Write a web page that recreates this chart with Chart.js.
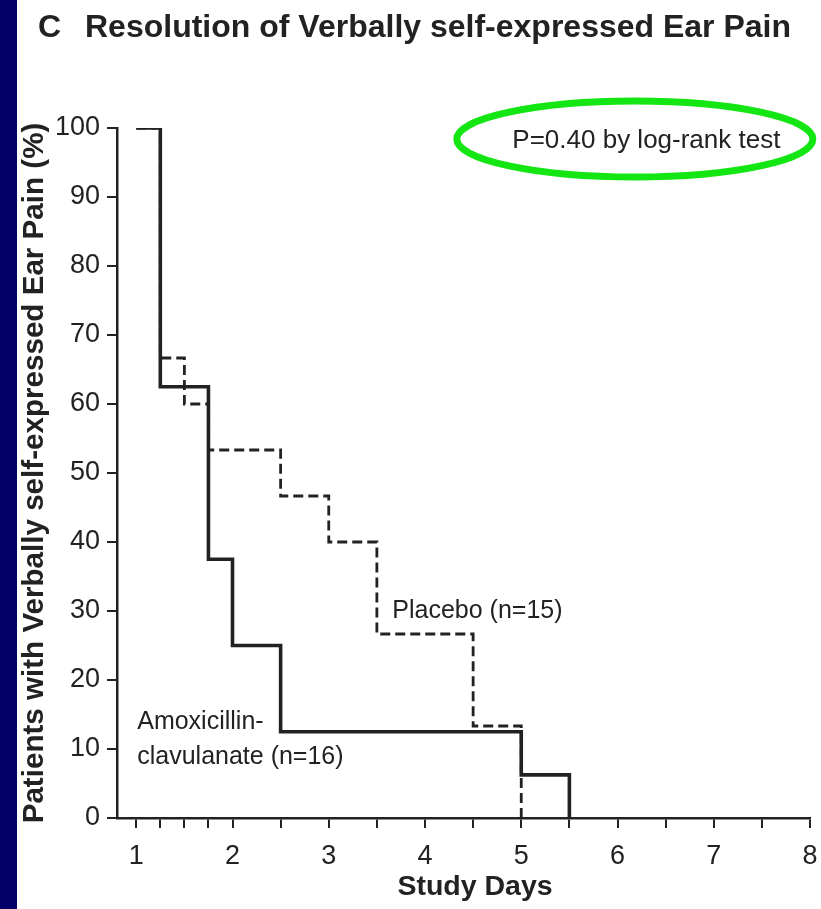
<!DOCTYPE html>
<html><head><meta charset="utf-8">
<script src="https://cdn.jsdelivr.net/npm/chart.js@4/dist/chart.umd.min.js"></script>
<style>html,body{margin:0;padding:0;background:#fff;overflow:hidden}#wrap{position:relative;width:821px;height:909px}</style>
</head><body><div id="wrap"><canvas id="c" width="821" height="909"></canvas></div>
<script>
// ---- data ----
const amoxDays = [1, 1.25, 1.75, 2, 2.5, 5, 5.5];
const amoxPct = [100, 62.5, 37.5, 25, 12.5, 6.25, 0];
const placeboDays = [1, 1.25, 1.5, 1.75, 2.5, 3, 3.5, 4.5, 5];
const placeboPct = [100, 66.67, 60, 53.33, 46.67, 40, 26.67, 13.33, 0];
const xTickValues = [1, 1.25, 1.5, 1.75, 2, 2.5, 3, 3.5, 4, 4.5, 5, 5.5, 6, 6.5, 7, 7.5, 8];
const xTickLabels = ['1', '', '', '', '2', '', '3', '', '4', '', '5', '', '6', '', '7', '', '8'];
const yTickValues = [0, 10, 20, 30, 40, 50, 60, 70, 80, 90, 100];
const titleLetter = 'C';
const titleText = 'Resolution of Verbally self-expressed Ear Pain';
const yTitle = 'Patients with Verbally self-expressed Ear Pain (%)';
const xTitle = 'Study Days';
const placeboLabel = 'Placebo (n=15)';
const amoxLabel = ['Amoxicillin-', 'clavulanate (n=16)'];
const pText = 'P=0.40 by log-rank test';

const FONT = "'Liberation Sans', Arial, Helvetica, sans-serif";
const INK = '#222';

const toPts = (xs, ys) => xs.map((x, i) => ({x, y: ys[i]}));

const deco = {
  id: 'deco',
  beforeDraw(chart) {
    const ctx = chart.ctx;
    ctx.save();
    ctx.fillStyle = '#fff';
    ctx.fillRect(0, 0, chart.width, chart.height);
    ctx.fillStyle = '#000066';
    ctx.fillRect(0, 0, 17, chart.height);
    ctx.restore();
  },
  afterDraw(chart) {
    const ctx = chart.ctx;
    const xs = chart.scales.x, ys = chart.scales.y;
    ctx.save();
    ctx.fillStyle = INK;
    ctx.textBaseline = 'alphabetic';
    ctx.textAlign = 'left';
    ctx.font = 'bold 32px ' + FONT;
    ctx.fillText(titleLetter, 38, 37);
    ctx.fillText(titleText, 85, 37);

    ctx.font = 'bold 28.5px ' + FONT;
    ctx.textAlign = 'center';
    ctx.textBaseline = 'middle';
    ctx.fillText(xTitle, 475, 887);

    ctx.font = '25px ' + FONT;
    ctx.textAlign = 'left';
    ctx.fillText(placeboLabel, xs.getPixelForValue(3.66), ys.getPixelForValue(30));
    ctx.fillText(amoxLabel[0], xs.getPixelForValue(1.01), ys.getPixelForValue(13.9));
    ctx.fillText(amoxLabel[1], xs.getPixelForValue(1.01), ys.getPixelForValue(8.8));

    ctx.font = '26px ' + FONT;
    ctx.textAlign = 'center';
    ctx.fillText(pText, xs.getPixelForValue(6.3), ys.getPixelForValue(98.1));

    ctx.strokeStyle = '#14e614';
    ctx.lineWidth = 7;
    ctx.beginPath();
    ctx.ellipse(xs.getPixelForValue(6.18), ys.getPixelForValue(98.4), 178, 38, 0, 0, Math.PI * 2);
    ctx.stroke();
    ctx.restore();
  }
};

new Chart(document.getElementById('c'), {
  type: 'line',
  data: {
    datasets: [
      {
        label: 'Placebo (n=15)',
        data: toPts(placeboDays, placeboPct),
        stepped: true,
        borderColor: INK,
        borderWidth: 2.8,
        borderDash: [10, 5],
        pointRadius: 0,
        fill: false
      },
      {
        label: 'Amoxicillin-clavulanate (n=16)',
        data: toPts(amoxDays, amoxPct),
        stepped: true,
        borderColor: INK,
        borderWidth: 3.6,
        pointRadius: 0,
        fill: false
      }
    ]
  },
  options: {
    responsive: false,
    animation: false,
    devicePixelRatio: 1,
    layout: {padding: {top: 128, right: 11, bottom: 0, left: 0}},
    plugins: {legend: {display: false}, tooltip: {enabled: false}, title: {display: false}},
    scales: {
      x: {
        type: 'linear',
        min: 0.8, max: 8,
        afterBuildTicks: s => { s.ticks = xTickValues.map(v => ({value: v})); },
        afterFit: s => { s.height = 91; s.paddingLeft = 0; s.paddingRight = 0; },
        ticks: {
          autoSkip: false, maxRotation: 0,
          color: INK, padding: 12,
          font: {family: FONT, size: 27},
          callback: (v, i) => xTickLabels[i]
        },
        grid: {drawOnChartArea: false, drawTicks: true, tickLength: 10, color: INK, lineWidth: 2},
        border: {display: true, color: INK, width: 2.5},
        title: {display: false}
      },
      y: {
        min: 0, max: 100,
        afterBuildTicks: s => { s.ticks = yTickValues.map(v => ({value: v})); },
        afterFit: s => { s.width = 117; s.paddingTop = 0; s.paddingBottom = 0; },
        ticks: {color: INK, padding: 7, font: {family: FONT, size: 27}},
        grid: {drawOnChartArea: false, drawTicks: true, tickLength: 10, color: INK, lineWidth: 2},
        border: {display: true, color: INK, width: 2.5},
        title: {display: true, text: yTitle, color: INK, font: {family: FONT, size: 29.6, weight: 'bold'}, padding: {top: 17, bottom: 0}}
      }
    }
  },
  plugins: [deco]
});
</script></body></html>
